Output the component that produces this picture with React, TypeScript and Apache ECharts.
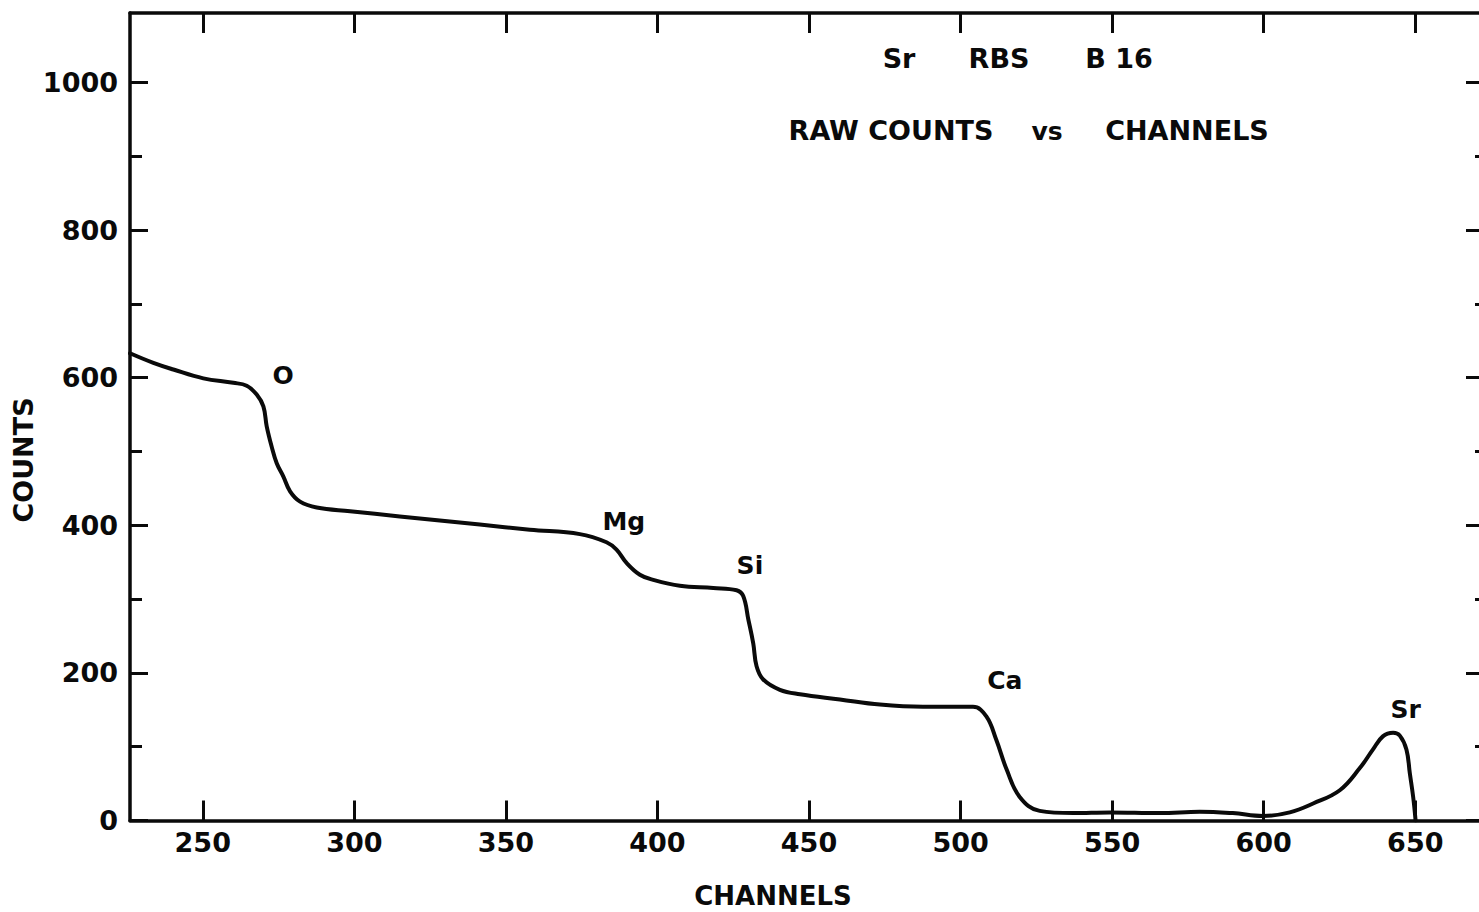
import React, { useEffect, useRef } from "react";
import * as echarts from "echarts";

// RBS spectrum trace (channel, raw counts)
const channels = [
  226, 233.7, 240.3, 250.2, 260.1, 264.5, 267.8, 270, 271.1, 272.7,
  274.4, 276.6, 278.8, 282.1, 287.6, 298.6, 315, 331.5, 341.4, 357.9,
  374.4, 383.2, 386.5, 389.8, 394.2, 398.6, 407.4, 418.4, 426.1, 428.3,
  430, 431.6, 432.7, 434.9, 440.4, 447, 460.2, 473.4, 487.6, 504.1,
  508.5, 511.8, 515.2, 519.5, 526.1, 537.1, 549.2, 565.7, 578.9, 589.8,
  599.8, 608.6, 616.3, 625.1, 631.7, 636, 639.3, 642.7, 644.9, 647.1,
  648.2, 649.3, 650.1,
];
const counts = [
  633, 620, 611, 599, 593, 589, 577, 561, 534, 507,
  484, 466, 446, 432, 424, 419, 412, 405, 401, 394,
  388, 377, 367, 349, 333, 326, 318, 315, 312, 304,
  272, 240, 209, 191, 177, 171, 164, 157, 154, 154,
  141, 109, 69, 32, 13, 10, 11, 10, 12, 10,
  6, 11, 23, 41, 71, 96, 114, 119, 115, 96,
  64, 32, 0,
];

// Element edge labels
const elementNames = ["O", "Mg", "Si", "Ca", "Sr"];
const elementChannels = [276.5, 388.9, 430.5, 514.6, 646.8];
const elementCounts = [603, 405, 345, 190, 150];

// Axis ticks
const xTicks = [250, 300, 350, 400, 450, 500, 550, 600, 650];
const yMajorTicks = [0, 200, 400, 600, 800, 1000];
const yMinorTicks = [100, 300, 500, 700, 900];

const X_MIN = 226;
const X_MAX = 673;
const Y_MIN = 0;
const Y_MAX = 1094;

const FONT = "DejaVu Sans";
const INK = "#0a0a0a";

export default function App() {
  const ref = useRef<HTMLDivElement>(null);

  useEffect(() => {
    if (!ref.current) return;
    const chart = echarts.init(ref.current, null, { renderer: "svg" });

    const line = { show: true, onZero: false, lineStyle: { color: INK, width: 3.5 } };
    const noLine = { show: false };
    const tick = (values: number[], length: number) => ({
      show: true,
      inside: true,
      length,
      customValues: values,
      lineStyle: { color: INK, width: 3 },
    });
    const noLabel = { show: false };

    const xBase = { type: "value" as const, min: X_MIN, max: X_MAX, splitLine: { show: false } };
    const yBase = { type: "value" as const, min: Y_MIN, max: Y_MAX, splitLine: { show: false } };

    const textStyle = (size: number) => ({
      fontFamily: FONT,
      fontWeight: "bold",
      fontSize: size,
      fill: INK,
    });

    chart.setOption({
      animation: false,
      backgroundColor: "#ffffff",
      grid: { left: 130, top: 13, right: -6, bottom: 91.5, outerBoundsMode: "none", containLabel: false },
      xAxis: [
        {
          ...xBase,
          position: "bottom",
          axisLine: line,
          axisTick: tick(xTicks, 20),
          axisLabel: {
            customValues: xTicks,
            fontFamily: FONT,
            fontWeight: "bold",
            fontSize: 27,
            color: INK,
            margin: 8,
          },
        },
        {
          ...xBase,
          position: "top",
          axisLine: line,
          axisTick: tick(xTicks, 20),
          axisLabel: noLabel,
        },
      ],
      yAxis: [
        {
          ...yBase,
          position: "left",
          axisLine: line,
          axisTick: tick(yMajorTicks, 18),
          axisLabel: {
            customValues: yMajorTicks,
            formatter: (v: number) => String(v),
            fontFamily: FONT,
            fontWeight: "bold",
            fontSize: 27,
            color: INK,
            margin: 12,
          },
        },
        {
          ...yBase,
          position: "left",
          axisLine: noLine,
          axisTick: tick(yMinorTicks, 12),
          axisLabel: noLabel,
        },
        {
          ...yBase,
          position: "right",
          axisLine: line,
          axisTick: tick(yMajorTicks, 19),
          axisLabel: noLabel,
        },
        {
          ...yBase,
          position: "right",
          axisLine: noLine,
          axisTick: tick(yMinorTicks, 10),
          axisLabel: noLabel,
        },
      ],
      series: [
        {
          type: "line",
          xAxisIndex: 0,
          yAxisIndex: 0,
          data: channels.map((c, i) => [c, counts[i]]),
          showSymbol: false,
          smooth: 0.4,
          lineStyle: { color: INK, width: 4, cap: "round", join: "round" },
          silent: true,
        },
        {
          // element labels placed at data coordinates
          type: "custom",
          xAxisIndex: 0,
          yAxisIndex: 0,
          silent: true,
          data: elementNames.map((n, i) => [elementChannels[i], elementCounts[i], n]),
          renderItem: (params: any, api: any) => {
            const pt = api.coord([api.value(0), api.value(1)]);
            const name = elementNames[params.dataIndex];
            return {
              type: "text",
              x: pt[0],
              y: pt[1],
              style: {
                text: name,
                fontFamily: FONT,
                fontWeight: "bold",
                fontSize: 25,
                fill: INK,
                textAlign: "center",
                textVerticalAlign: "middle",
              },
            };
          },
        },
      ],
      graphic: [
        { type: "text", x: 899, y: 58, style: { text: "Sr", ...textStyle(27), textAlign: "center", textVerticalAlign: "middle" } },
        { type: "text", x: 999, y: 58, style: { text: "RBS", ...textStyle(27), textAlign: "center", textVerticalAlign: "middle" } },
        { type: "text", x: 1119, y: 58, style: { text: "B 16", ...textStyle(27), textAlign: "center", textVerticalAlign: "middle" } },
        { type: "text", x: 891, y: 130, style: { text: "RAW COUNTS", ...textStyle(27), textAlign: "center", textVerticalAlign: "middle" } },
        { type: "text", x: 1047, y: 131, style: { text: "vs", ...textStyle(25), textAlign: "center", textVerticalAlign: "middle" } },
        { type: "text", x: 1187, y: 130, style: { text: "CHANNELS", ...textStyle(27), textAlign: "center", textVerticalAlign: "middle" } },
        { type: "text", x: 773, y: 896, style: { text: "CHANNELS", ...textStyle(26), textAlign: "center", textVerticalAlign: "middle" } },
        {
          type: "text",
          x: 23,
          y: 460,
          rotation: Math.PI / 2,
          style: { text: "COUNTS", ...textStyle(27), textAlign: "center", textVerticalAlign: "middle" },
        },
      ],
    });

    return () => chart.dispose();
  }, []);

  return (
    <div
      ref={ref}
      style={{ position: "fixed", left: 0, top: 0, width: 1479, height: 912, background: "#fff" }}
    />
  );
}
